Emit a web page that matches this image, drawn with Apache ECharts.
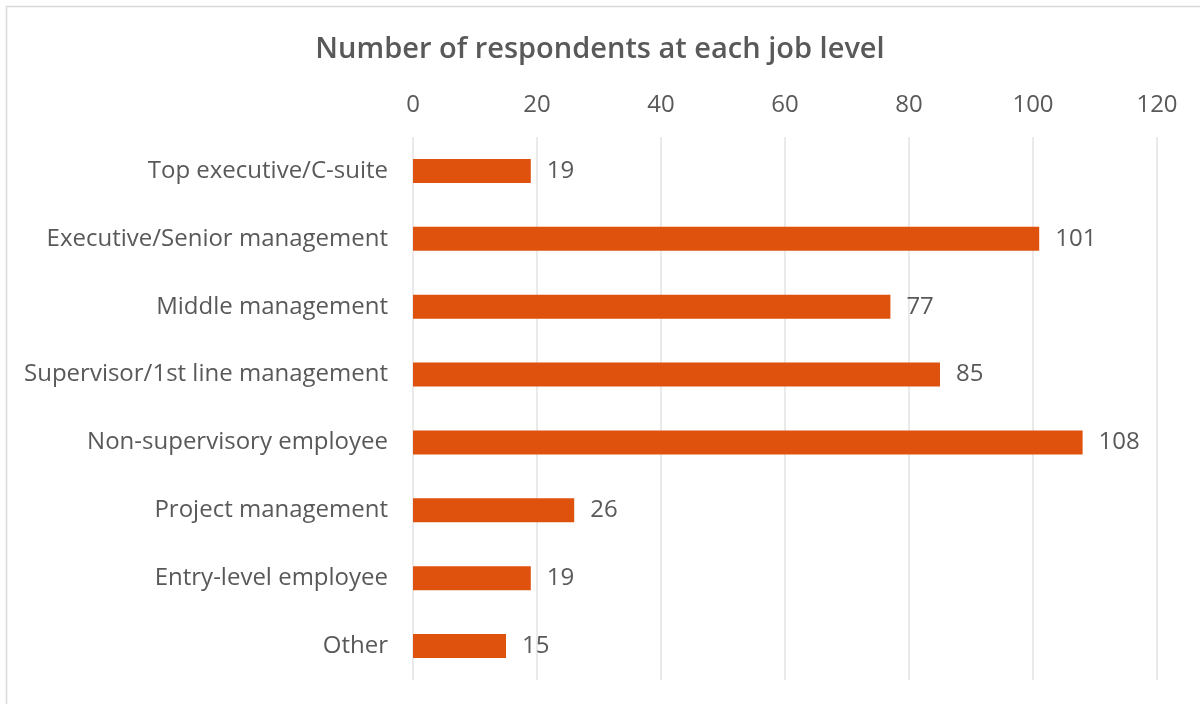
<!DOCTYPE html>
<html>
<head>
<meta charset="utf-8">
<script src="https://cdn.jsdelivr.net/npm/echarts@6/dist/echarts.min.js"></script>
<style>
html, body { margin: 0; padding: 0; background: #fff; }
#chart { width: 1200px; height: 704px; }
</style>
</head>
<body>
<div id="chart"></div>
<script>
const categories = [
  'Top executive/C-suite',
  'Executive/Senior management',
  'Middle management',
  'Supervisor/1st line management',
  'Non-supervisory employee',
  'Project management',
  'Entry-level employee',
  'Other'
];
const counts = [19, 101, 77, 85, 108, 26, 19, 15];

const textColor = '#595959';
const font = '"Open Sans", "Noto Sans", sans-serif';

const chart = echarts.init(document.getElementById('chart'));
chart.setOption({
  animation: false,
  textStyle: { fontFamily: font },
  title: {
    text: 'Number of respondents at each job level',
    left: 'center',
    top: 30,
    textStyle: { fontFamily: font, fontSize: 29, fontWeight: 600, color: textColor }
  },
  graphic: [{
    type: 'rect',
    shape: { x: 6.5, y: 6.5, width: 1300, height: 800 },
    style: { fill: 'none', stroke: '#d9d9d9', lineWidth: 1.5 },
    silent: true
  }],
  grid: { left: 413, right: 43, top: 137, bottom: 24 },
  xAxis: {
    type: 'value',
    position: 'top',
    min: 0,
    max: 120,
    interval: 20,
    axisLine: { show: false },
    axisTick: { show: false },
    axisLabel: { color: textColor, fontSize: 24, fontFamily: font, margin: 20 },
    splitLine: { show: true, lineStyle: { color: '#e3e3e3', width: 1.5 } }
  },
  yAxis: {
    type: 'category',
    inverse: true,
    data: categories,
    axisLine: { show: false },
    axisTick: { show: false },
    axisLabel: { color: textColor, fontSize: 24, fontFamily: font, margin: 25 }
  },
  series: [{
    type: 'bar',
    data: counts,
    barWidth: 24,
    itemStyle: { color: '#DF520D' },
    label: {
      show: true,
      position: 'right',
      distance: 16,
      color: textColor,
      fontSize: 24,
      fontFamily: font
    }
  }]
});
</script>
</body>
</html>
